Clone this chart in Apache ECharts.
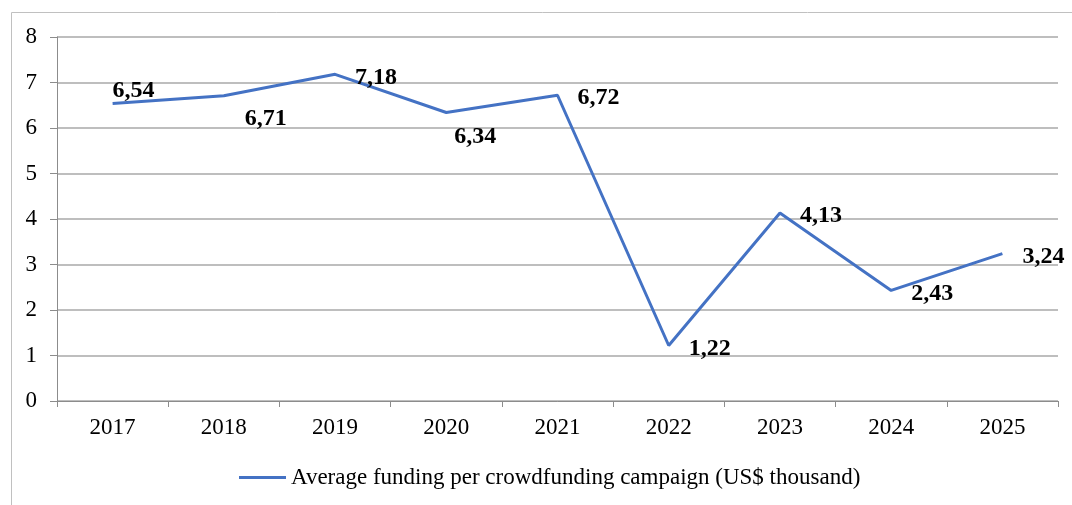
<!DOCTYPE html>
<html><head><meta charset="utf-8">
<script src="https://cdn.jsdelivr.net/npm/echarts@6/dist/echarts.min.js"></script>
<style>html,body{margin:0;padding:0;background:#fff}#c{width:1072px;height:505px}</style>
</head><body><div id="c"></div>
<script>
const categories = ['2017','2018','2019','2020','2021','2022','2023','2024','2025'];
const values = [6.54, 6.71, 7.18, 6.34, 6.72, 1.22, 4.13, 2.43, 3.24];
const seriesName = 'Average funding per crowdfunding campaign (US$ thousand)';
const yTicks = [0, 8, 1];

// label placement tweaks (style only)
const labelOffsets = {0: [-20, -13], 1: [1, 23], 3: [-12, 24]};

const chart = echarts.init(document.getElementById('c'));
const FONT = '"Liberation Serif","DejaVu Serif",serif';
const data = values.map((v, i) => ({value: v, label: {offset: labelOffsets[i] || [0, 3]}}));
chart.setOption({
  animation: false,
  graphic: [{type: 'rect', shape: {x: 11.5, y: 12.5, width: 1200, height: 600},
    style: {fill: 'none', stroke: '#c0c0c0', lineWidth: 1}, z: -1}],
  grid: {left: 57, right: 14, top: 37, bottom: 104},
  xAxis: {
    type: 'category', data: categories, boundaryGap: true,
    axisLine: {lineStyle: {color: '#8c8c8c', width: 1}},
    axisTick: {show: true, length: 6, lineStyle: {color: '#8c8c8c'}},
    axisLabel: {color: '#000', fontFamily: FONT, fontSize: 23, margin: 15}
  },
  yAxis: {
    type: 'value', min: yTicks[0], max: yTicks[1], interval: yTicks[2],
    axisLine: {show: true, lineStyle: {color: '#8c8c8c', width: 1}},
    axisTick: {show: true, length: 7, lineStyle: {color: '#8c8c8c'}},
    axisLabel: {color: '#000', fontFamily: FONT, fontSize: 23, margin: 20},
    splitLine: {lineStyle: {color: '#a8a8a8', width: 1.5}}
  },
  legend: {
    bottom: 11, left: 234, itemWidth: 47, itemHeight: 3, itemGap: 10,
    icon: 'rect',
    textStyle: {color: '#000', fontFamily: FONT, fontSize: 23},
    data: [seriesName]
  },
  series: [{
    name: seriesName, type: 'line', data: data,
    symbol: 'circle', symbolSize: 0, showSymbol: true,
    lineStyle: {color: '#4472C4', width: 3},
    itemStyle: {color: '#4472C4'},
    label: {show: true, position: 'right', distance: 20,
      fontFamily: FONT, fontWeight: 'bold', fontSize: 24, color: '#000',
      formatter: p => p.value.toFixed(2).replace('.', ',')}
  }]
});
</script></body></html>
